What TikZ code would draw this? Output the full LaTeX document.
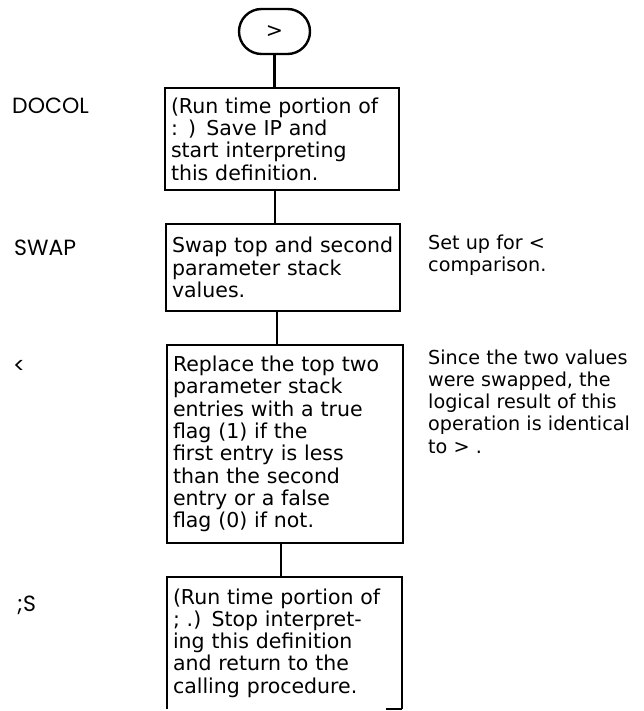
\documentclass[tikz,border=0pt]{standalone}
\usepackage{fontspec}
\setmainfont{DejaVu Sans}
\newfontfamily\labfont{Poppins}
\usetikzlibrary{shapes.misc}
\begin{document}
\begin{tikzpicture}[x=1pt,y=-1pt,
  txt/.style={font=\fontsize{20.5}{22.3}\selectfont},
  notetxt/.style={font=\fontsize{19.2}{22.3}\selectfont},
  boxnode/.style={txt, draw, line width=1.9pt, rectangle, align=left, inner xsep=6pt, inner ysep=0pt},
  openbox/.style={txt, rectangle, align=left, inner xsep=6pt, inner ysep=0pt},
  edge/.style={line width=1.9pt},
  conn/.style={line width=2.3pt},
  lab/.style={font=\labfont\fontsize{22}{24}\selectfont, anchor=base west, inner sep=0pt},
  note/.style={notetxt, anchor=base west, align=left, inner sep=0pt}]
\useasboundingbox (0,0) rectangle (643,711);
\fill[white] (0,0) rectangle (643,711);

\node[draw, rounded rectangle, line width=2.4pt, minimum width=71pt, minimum height=45pt, inner sep=0pt, txt] (start) at (274.5,31.5) {>};

\node[boxnode, minimum width=234pt, minimum height=102pt, text width=222pt] (b1) at (282,139)
  {(Run time portion of\\: ) Save IP and\\start interpreting\\this definition.};
\node[boxnode, minimum width=234pt, minimum height=87pt, text width=222pt] (b2) at (283,267.5)
  {Swap top and second\\parameter stack\\values.};
\node[boxnode, minimum width=236pt, minimum height=198pt, text width=224pt] (b3) at (285,444)
  {Replace the top two\\parameter stack\\entries with a true\\flag (1) if the\\first entry is less\\than the second\\entry or a false\\flag (0) if not.};
\node[openbox, minimum width=235pt, minimum height=132pt, text width=223pt] (b4) at (284.5,643)
  {(Run time portion of\\; .) Stop interpret-\\ing this definition\\and return to the\\calling procedure.};
\draw[edge] (b4.south west) -- (b4.north west) -- (b4.north east) -- (b4.south east);
\coordinate (frag) at ([xshift=-16pt]b4.south east);
\draw[edge] (frag) -- (b4.south east);

\coordinate (k1) at ([xshift=-7pt]b1.south);
\coordinate (k2) at ([xshift=-6pt]b2.south);
\coordinate (k3) at ([xshift=-4pt]b3.south);
\draw[conn] (start.south) -- (start.south |- b1.north);
\draw[conn] (k1) -- (k1 |- b2.north);
\draw[conn] (k2) -- (k2 |- b3.north);
\draw[conn] (k3) -- (k3 |- b4.north);

\node[lab] (l1) at (12,114) {DOCOL};
\node[lab] (l2) at (14,255) {SWAP};
\node[lab] (l3) at (13,373) {<};
\node[lab] (l4) at (17,611) {;S};

\node[note] (n1) at (428,271.3) {Set up for <\\comparison.};
\node[note] (n2) at (428,453.2) {Since the two values\\were swapped, the\\logical result of this\\operation is identical\\to > .};
\end{tikzpicture}
\end{document}
